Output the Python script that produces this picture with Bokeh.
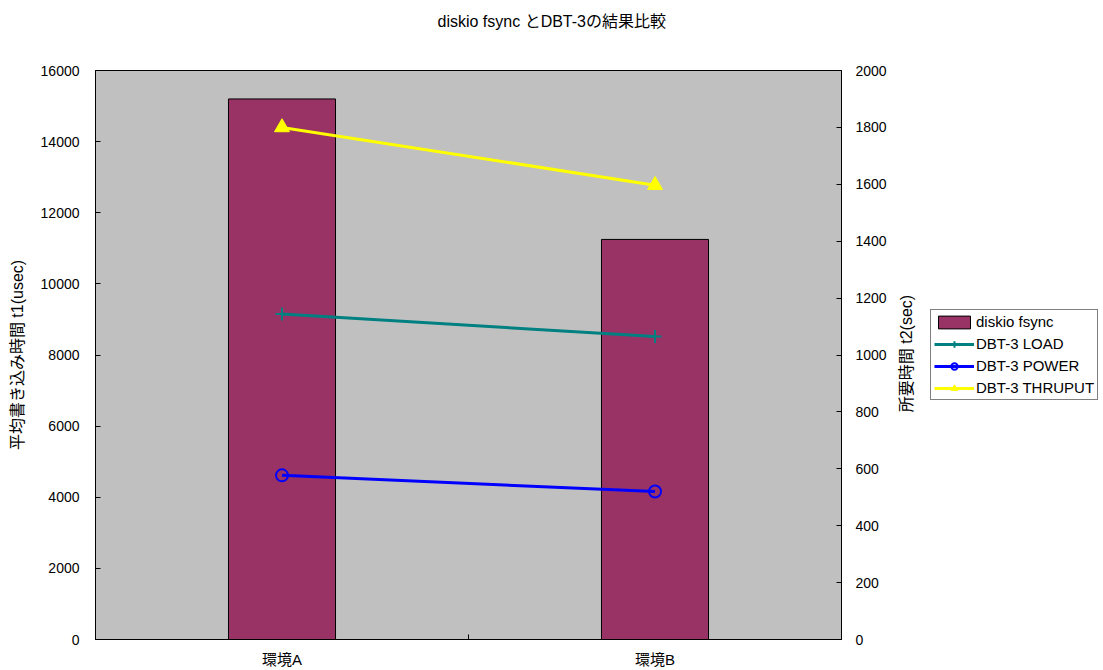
from bokeh.plotting import figure
from bokeh.layouts import row
from bokeh.models import (Range1d, LinearAxis, FixedTicker, Legend, LegendItem,
                          Title, Label)
from bokeh.embed import file_html
from bokeh.resources import INLINE
import math

# --- data ---
categories = ["環境A", "環境B"]
fsync_usec = [15200, 11250]      # diskio fsync average write time t1 (usec)
load_sec = [1144, 1065]          # DBT-3 LOAD (sec)
power_sec = [577, 520]           # DBT-3 POWER (sec)
thruput_sec = [1800, 1597]       # DBT-3 THRUPUT (sec)
left_ticks = [0, 2000, 4000, 6000, 8000, 10000, 12000, 14000, 16000]
right_ticks = [0, 200, 400, 600, 800, 1000, 1200, 1400, 1600, 1800, 2000]

FONT = "Liberation Sans, Noto Sans CJK JP"
H = 670
MAIN_W = 895
SIDE_W = 1103 - MAIN_W
FRAME_TOP, FRAME_BOTTOM = 70, 640

xs = [i + 0.5 for i in range(len(categories))]
separators = [i for i in range(1, len(categories))]

p = figure(width=MAIN_W, height=H, output_backend="svg", toolbar_location=None,
           x_range=Range1d(0, len(categories)), y_range=Range1d(0, 16000),
           min_border_left=95, min_border_right=54, min_border_top=FRAME_TOP,
           min_border_bottom=H - FRAME_BOTTOM, x_axis_type=None, y_axis_type=None)
p.extra_y_ranges = {"t2": Range1d(0, 2000)}

p.background_fill_color = "#C0C0C0"
p.border_fill_color = "white"
p.outline_line_color = "black"
p.outline_line_width = 1
p.xgrid.visible = False
p.ygrid.visible = False

# spacer between the frame and the title, then the title itself
p.add_layout(Title(text=" ", text_font_size="16px", standoff=22), "above")
p.title.text = "diskio fsync とDBT-3の結果比較"
p.title.text_font = FONT
p.title.text_font_size = "16px"
p.title.text_font_style = "normal"
p.title.text_color = "black"
p.title.align = "left"
p.title.offset = 342
p.title.standoff = 0


def style_axis(ax):
    ax.major_label_text_font = FONT
    ax.major_label_text_font_size = "14px"
    ax.major_label_text_color = "black"
    ax.axis_label_text_font = FONT
    ax.axis_label_text_font_size = "16px"
    ax.axis_label_text_font_style = "normal"
    ax.axis_label_text_color = "black"
    ax.axis_line_color = "black"
    ax.major_tick_line_color = "black"
    ax.minor_tick_line_color = "black"
    ax.major_tick_in = 5
    ax.major_tick_out = 0
    ax.minor_tick_in = 0
    ax.minor_tick_out = 0


# bottom category axis: labels at bar centres, tick mark between categories
xaxis = LinearAxis(ticker=FixedTicker(ticks=xs, minor_ticks=separators),
                   major_label_overrides={x: c for x, c in zip(xs, categories)})
style_axis(xaxis)
xaxis.major_label_text_font_size = "15px"
xaxis.major_tick_in = 0
xaxis.minor_tick_in = 5
xaxis.major_label_standoff = 11
p.add_layout(xaxis, "below")

yaxis = LinearAxis(ticker=FixedTicker(ticks=left_ticks),
                   axis_label="平均書き込み時間 t1(usec)")
style_axis(yaxis)
yaxis.major_label_standoff = 16
yaxis.axis_label_standoff = 12
p.add_layout(yaxis, "left")

y2axis = LinearAxis(y_range_name="t2", ticker=FixedTicker(ticks=right_ticks))
style_axis(y2axis)
y2axis.major_label_standoff = 14
p.add_layout(y2axis, "right")

BAR = dict(width=0.287, fill_color="#993366", line_color="black", line_width=1)
LOAD_LINE = dict(line_color="#008080", line_width=3)
LOAD_MARK = dict(marker="cross", size=13, line_color="#008080", line_width=2)
POW_LINE = dict(line_color="#0000FF", line_width=3)
POW_MARK = dict(marker="circle", size=12, line_color="#0000FF", line_width=2,
                fill_alpha=0)
THR_LINE = dict(line_color="#FFFF00", line_width=3)
THR_MARK = dict(marker="triangle", size=15, line_color="#FFFF00",
                fill_color="#FFFF00")


def draw_series(fig, y2=None):
    """Bars on the primary scale, DBT-3 timings on the secondary one."""
    kw = {} if y2 is None else {"y_range_name": y2}
    bar = fig.vbar(x=xs, top=fsync_usec, bottom=0, **BAR)
    load = [fig.line(xs, load_sec, **kw, **LOAD_LINE),
            fig.scatter(xs, load_sec, **kw, **LOAD_MARK)]
    power = [fig.line(xs, power_sec, **kw, **POW_LINE),
             fig.scatter(xs, power_sec, **kw, **POW_MARK)]
    thru = [fig.line(xs, thruput_sec, **kw, **THR_LINE),
            fig.scatter(xs, thruput_sec, **kw, **THR_MARK)]
    return bar, load, power, thru


draw_series(p, "t2")

# side panel: secondary axis title and legend (its own ranges keep the
# legend's source renderers out of view)
side = figure(width=SIDE_W, height=H, output_backend="svg", toolbar_location=None,
              x_range=Range1d(-2, -1), y_range=Range1d(-2, -1),
              min_border=0, x_axis_type=None, y_axis_type=None)
side.outline_line_color = None
side.background_fill_color = "white"
side.border_fill_color = "white"
side.xgrid.visible = False
side.ygrid.visible = False

side.add_layout(Label(text="所要時間 t2(sec)", x=11, y=FRAME_BOTTOM - 354,
                      x_units="screen", y_units="screen", angle=math.pi / 2,
                      text_align="center", text_baseline="middle",
                      text_font=FONT, text_font_size="16px", text_color="black"))

s_bar, s_load, s_pow, s_thr = draw_series(side)

legend = Legend(items=[
    LegendItem(label="diskio fsync", renderers=[s_bar]),
    LegendItem(label="DBT-3 LOAD", renderers=s_load),
    LegendItem(label="DBT-3 POWER", renderers=s_pow),
    LegendItem(label="DBT-3 THRUPUT", renderers=s_thr),
], location=(35, FRAME_BOTTOM - 401))
legend.margin = 0
legend.border_line_color = "black"
legend.border_line_width = 1
legend.background_fill_color = "white"
legend.background_fill_alpha = 1
legend.label_text_font = FONT
legend.label_text_font_size = "15px"
legend.label_text_color = "black"
legend.glyph_width = 40
legend.glyph_height = 16
legend.label_height = 16
legend.spacing = 5
legend.padding = 3
legend.label_standoff = 2
side.add_layout(legend, "center")

layout = row(p, side, spacing=0)
open("out.html", "w").write(file_html(layout, INLINE))
